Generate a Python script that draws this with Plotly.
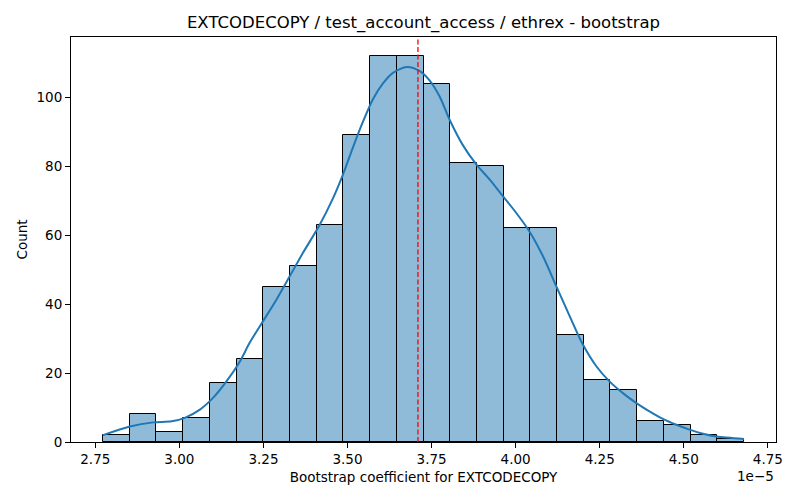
#!/usr/bin/env python3

import numpy as np
import plotly.graph_objects as go

# bootstrap histogram (24 equal bins between data min and max)
bin_lo = 2.773e-5
bin_hi = 4.679e-5
counts = [2, 8, 3, 7, 17, 24, 45, 51, 63, 89, 112, 112,
          104, 81, 80, 62, 62, 31, 18, 15, 6, 5, 2, 1]

# kde curve (x in units of 1e-5, y in counts)
kde_x = [2.773, 2.853, 2.922, 2.977, 3.016, 3.061, 3.100, 3.140, 3.180, 3.209,
         3.249, 3.289, 3.328, 3.368, 3.417, 3.457, 3.487, 3.516, 3.546, 3.576,
         3.606, 3.635, 3.677, 3.715, 3.744, 3.774, 3.804, 3.843, 3.883, 3.923,
         3.962, 4.002, 4.042, 4.081, 4.121, 4.161, 4.200, 4.240, 4.279, 4.319,
         4.359, 4.398, 4.438, 4.478, 4.517, 4.557, 4.597, 4.679]
kde_y = [2.0, 4.5, 5.7, 6.0, 7.0, 9.4, 12.8, 17.6, 23.4, 28.8,
         35.1, 41.4, 48.1, 55.0, 63.0, 70.8, 77.8, 85.5, 93.0, 99.6,
         104.2, 107.2, 108.9, 107.7, 105.0, 100.3, 93.5, 86.2, 80.6, 76.2,
         71.4, 66.5, 61.0, 54.0, 45.2, 36.5, 28.3, 22.0, 17.6, 14.2,
         11.3, 8.9, 6.7, 5.0, 3.6, 2.4, 1.6, 0.9]

mean_coef = 3.7095e-5

xtick_vals = [2.75, 3.00, 3.25, 3.50, 3.75, 4.00, 4.25, 4.50, 4.75]
xtick_text = ["2.75", "3.00", "3.25", "3.50", "3.75", "4.00", "4.25", "4.50", "4.75"]
ytick_vals = [0, 20, 40, 60, 80, 100]

title = "EXTCODECOPY / test_account_access / ethrex - bootstrap"
xlabel = "Bootstrap coefficient for EXTCODECOPY"


def main():
    edges = np.linspace(bin_lo, bin_hi, len(counts) + 1)
    centers = (edges[:-1] + edges[1:]) / 2
    width = edges[1] - edges[0]

    fig = go.Figure()
    fig.add_trace(go.Bar(
        x=centers,
        y=counts,
        width=width,
        marker=dict(color="rgba(31,119,180,0.5)",
                    line=dict(color="black", width=1)),
        hoverinfo="skip",
    ))
    fig.add_trace(go.Scatter(
        x=np.array(kde_x) * 1e-5,
        y=kde_y,
        mode="lines",
        line=dict(color="#1f77b4", width=2, shape="spline", smoothing=0.8),
    ))

    fig.add_shape(type="line", xref="x", yref="paper",
                  x0=mean_coef, x1=mean_coef, y0=0, y1=1,
                  line=dict(color="red", width=1.3, dash="5px,2.5px"))

    span = bin_hi - bin_lo
    axis_font = dict(family="DejaVu Sans", size=13.5, color="black")
    # page body has an 8px margin, so the figure sits 8px right/down
    fig.update_layout(
        width=800, height=500,
        margin=dict(l=63, r=32, t=29, b=66),
        paper_bgcolor="white", plot_bgcolor="white",
        showlegend=False,
        bargap=0,
        font=dict(family="DejaVu Sans", color="black"),
        title=dict(text=title, x=(63 + 768) / 2 / 800, xanchor="center",
                   y=1 - 14 / 500, yanchor="middle", yref="container",
                   font=dict(family="DejaVu Sans", size=16.5, color="black")),
        xaxis=dict(
            range=[bin_lo - 0.05 * span, bin_hi + 0.05 * span],
            tickvals=[v * 1e-5 for v in xtick_vals], ticktext=xtick_text,
            ticks="outside", ticklen=5, tickcolor="black", tickwidth=1,
            showline=True, linecolor="black", linewidth=1.1, mirror=True,
            showgrid=False, zeroline=False, tickfont=axis_font,
            title=dict(text=xlabel, font=axis_font, standoff=6),
            automargin=False,
        ),
        yaxis=dict(
            range=[0, 117.6],
            tickvals=ytick_vals,
            ticks="outside", ticklen=5, tickcolor="black", tickwidth=1,
            showline=True, linecolor="black", linewidth=1.1, mirror=True,
            showgrid=False, zeroline=False, tickfont=axis_font,
            title=dict(text="Count", font=axis_font, standoff=5),
            automargin=False,
        ),
    )
    fig.add_annotation(text="1e\u22125", xref="paper", yref="paper",
                       x=1, y=0, xanchor="right", yanchor="top", yshift=-24,
                       showarrow=False, font=axis_font)

    fig.write_html("out.html")


if __name__ == "__main__":
    main()
